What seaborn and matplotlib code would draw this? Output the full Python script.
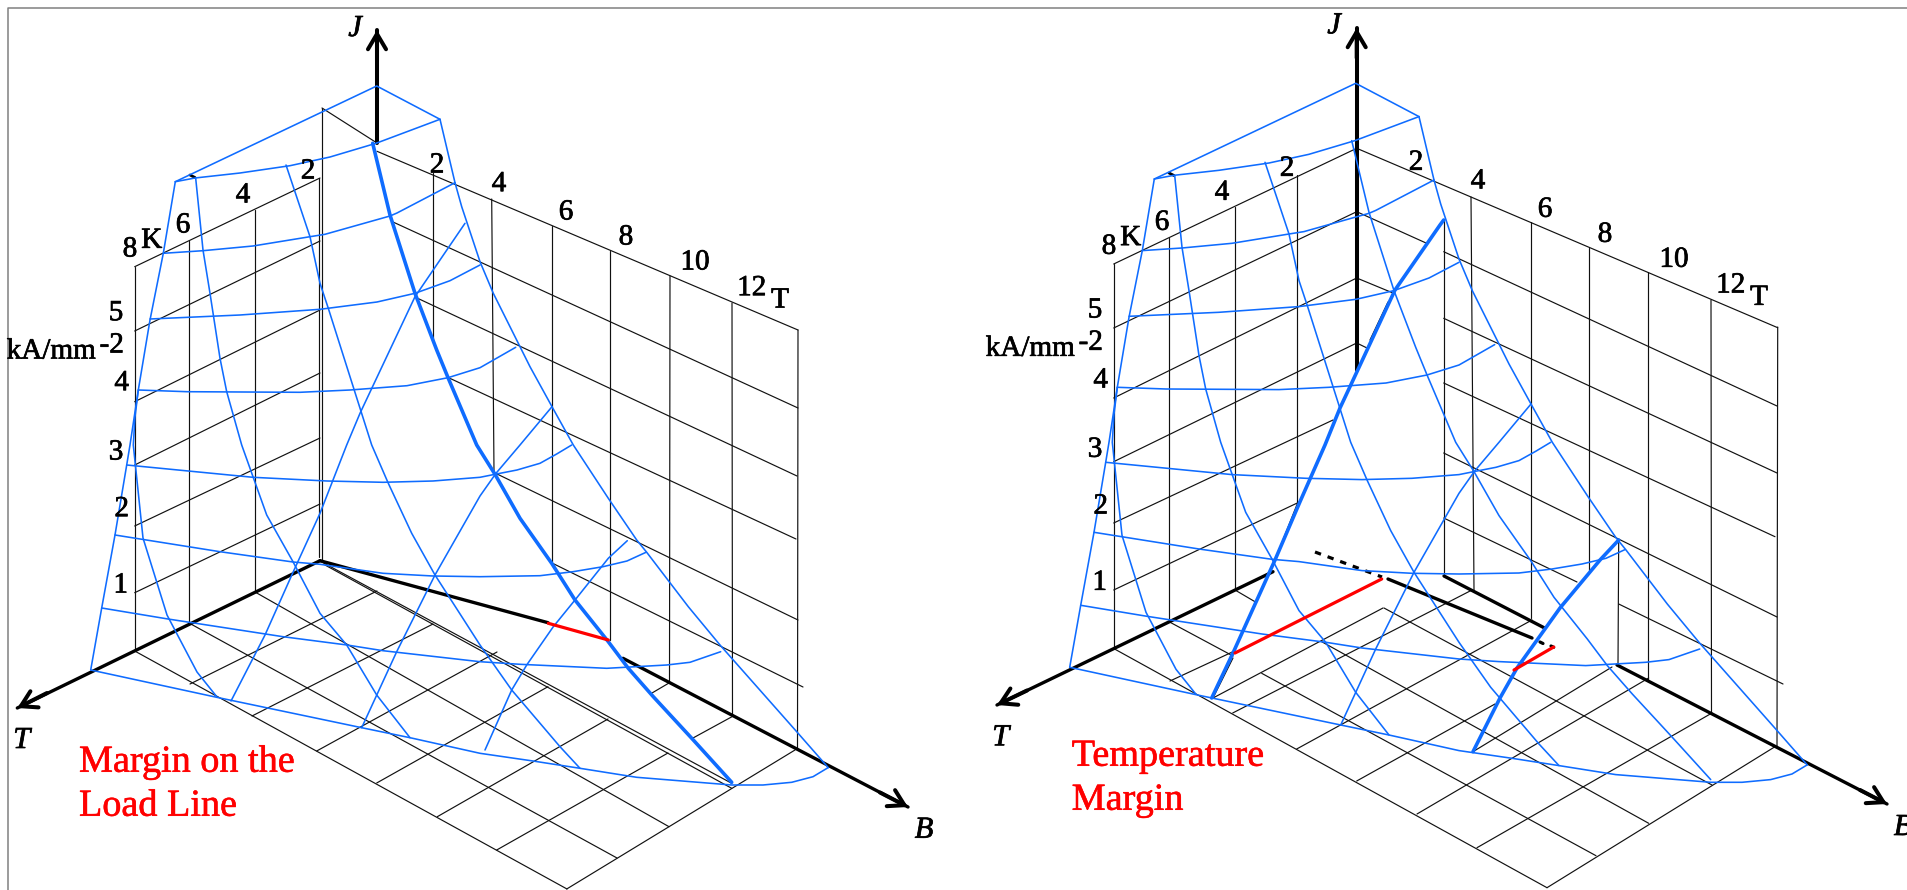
import pandas as pd
from matplotlib import pyplot as plt
from matplotlib import patheffects
import seaborn as sns

BLUE = '#0f6cff'
RED = '#ff0000'
SHIFT = (979, -2.7)   # the right panel repeats the surface of the left one

# ---- critical surface, shared by both panels
surface_top = [(175.3, 181.7), (376.7, 86), (440, 119.3)]
surface_edge = [(175.3, 181.7), (163.3, 253.3), (150, 320), (138.3, 390), (130, 445),
                (126.7, 465), (115, 535), (101.7, 608), (90.7, 670)]
curve_j1 = [(175.3, 181.7), (195, 178), (240, 173), (290, 165.7), (330, 157), (376, 143.3), (440, 119.3)]
curve_j2 = [(163.3, 253.3), (203, 250.7), (253, 246), (310, 236.7), (325, 234.3), (390, 216), (397, 213), (455, 182.7)]
curve_j3 = [(150, 319), (240, 315), (320, 309.3), (377, 302), (415, 293.3), (450, 280.7), (480, 265)]
curve_j4 = [(138.3, 390), (187, 391.7), (300, 392.3), (350, 390), (407, 385.7), (448, 377.7), (480, 367.7),
            (490, 362), (515.7, 347.3)]
curve_j5 = [(126.7, 465), (253, 477.3), (327, 481), (383, 482.3), (433, 481), (480, 477.3), (495, 474.3),
            (517, 470), (540, 463.3), (556.7, 454), (571.7, 445)]
curve_j6 = [(115, 535), (220, 551.7), (293, 562), (320, 564.3), (383, 573.3), (433, 576), (480, 576.7),
            (540, 575.7), (573, 571.7), (603, 566.7), (627, 561), (646, 552.3)]
curve_j7 = [(101.7, 608), (168, 619), (283, 636.7), (347, 645), (383, 650.7), (480, 661.7), (520, 664.3),
            (606.7, 668.3), (666.7, 665), (690, 662.3), (720.7, 651.7)]
curve_j8 = [(90.7, 670), (216.7, 697.3), (361.7, 727.7), (410, 737.7), (480, 753.3), (533, 761), (580, 768.3),
            (636.7, 777.3), (731.7, 785), (763, 785), (791.7, 782.3), (813, 776.7), (828, 767.7)]
fall_a = [(138.3, 390), (135, 417), (133.3, 445), (143, 538), (167, 615), (197, 672), (217, 697)]
fall_b = [(195.7, 178.3), (203, 250), (210, 293.3), (220, 358.3), (226.7, 391.7), (241.7, 445), (253, 476.7),
          (266.7, 515), (293, 561.7), (320, 613.3), (346.7, 645), (376.7, 695), (410, 737.7)]
fall_c = [(286, 165), (310, 236.7), (320, 283.3), (328.3, 308.3), (350, 376.7), (371.7, 445), (388.3, 483.3),
          (411.7, 533.3), (435, 575), (480, 645), (511.7, 690), (560, 746.7), (580, 768.3)]
fall_d = [(372.7, 143.3), (390, 215), (415, 293.3), (436.7, 350), (448.3, 378.3), (476.7, 445), (495, 474.3),
          (520, 518.3), (551.7, 563.3), (575, 600), (608.3, 641.7), (628.3, 668.3), (653.3, 696.7),
          (693.3, 740), (731.7, 782.3)]
fall_e = [(440, 119.3), (455, 182.7), (461.7, 206.7), (480, 261.7), (493.3, 293.3), (520, 346.7), (530, 366.7),
          (552, 406.7), (573.3, 445), (608.3, 498.3), (636.7, 540), (646.7, 552.3), (688.3, 606.7), (720, 645),
          (796.7, 731.7), (828.3, 767.7)]
rise_a = [(231, 701), (265, 635), (293.3, 571.7), (320, 513.3), (346.7, 445), (360, 413.3), (415, 296.7), (465, 223.3)]
rise_b = [(361.7, 727.7), (396.7, 651.7), (435, 575), (480, 496), (496, 473.3), (520, 445), (552, 406.7)]
rise_c = [(485, 750), (511.7, 690), (526.7, 665), (553.3, 626.7), (575, 600), (608.3, 558.3), (627.3, 540.7)]
surface = [surface_top, surface_edge, curve_j1, curve_j2, curve_j3, curve_j4, curve_j5, curve_j6, curve_j7,
           curve_j8, fall_a, fall_b, fall_c, fall_e, rise_b]

# ---- left panel, Margin on the Load Line
left_grid = [
    # T-J wall
    [(134.7, 266.7), (134.7, 651)], [(189, 241), (189, 623)], [(255, 210), (255, 592)],
    [(318.5, 178), (318.5, 557)], [(322, 108), (322, 560)], [(322, 108), (377, 143)],
    [(134.7, 266.7), (320, 178)], [(134.7, 331), (320, 241)], [(134.7, 401.7), (320, 310)],
    [(134.7, 465), (320, 373)], [(134.7, 526), (320, 438)], [(134.7, 592.7), (320, 504)],
    # B-J wall
    [(377, 151.3), (798, 330)], [(393, 222), (798, 408)], [(417, 298), (797, 476)], [(447, 377), (796, 539)],
    [(495, 473), (798, 620)], [(552, 563), (803, 687)],
    [(433, 173), (433, 340)], [(491.7, 199), (494, 472)], [(552, 226), (552, 562)], [(609.7, 251), (609.7, 640)],
    [(670, 276), (669.5, 683)], [(732, 303), (732.5, 715)], [(798, 330), (797.5, 748)],
    # floor
    [(134.7, 651), (567, 889)], [(189, 623), (617, 858)], [(255, 592), (669, 826.7)],
    [(320, 561), (731.7, 783.3)], [(325, 565), (731.7, 788.3)],
    [(190, 684), (377, 591)], [(252, 716), (433, 624)], [(316.7, 751), (497, 652)], [(376.7, 783), (548, 686.7)],
    [(437.3, 816.7), (608, 719)], [(652, 693), (669, 683)], [(496.7, 850), (668, 753)], [(693, 738), (732, 716.7)],
    [(566.7, 889), (795, 750)],
]
left_axes = [[(320, 560.7), (17.3, 708)], [(320, 560.7), (548, 622.7)], [(623, 658.3), (908, 807)]]
left_j_axis = [[(377, 143), (377, 30)]]
left_margin = [[(548.3, 623.3), (608.3, 640)]]
left_tick = [[(190, 175), (195, 177.5)]]

# ---- right panel, Temperature Margin
right_grid = [
    # T-J wall
    [(1113.7, 264), (1113.7, 648.3)], [(1169, 238), (1169, 621)], [(1234.7, 207), (1234.7, 590)], [(1297, 175), (1297, 502)],
    [(1113.7, 264), (1356.7, 148.3)], [(1113.7, 328), (1356.7, 211.7)], [(1113.7, 398), (1356.7, 278)],
    [(1113.7, 461.7), (1356.7, 343)], [(1113.7, 523), (1333, 420)], [(1113.7, 590), (1300, 501.7)],
    # B-J wall
    [(1356.7, 148.3), (1777.7, 327.7)], [(1356.7, 211.7), (1426.7, 243.3)], [(1443.7, 251.7), (1777, 406)],
    [(1356.7, 278), (1393, 293)], [(1443.7, 318.3), (1777, 473)], [(1356.7, 343), (1367, 348)],
    [(1443.7, 383), (1775, 536.7)], [(1443.7, 453), (1777, 617)], [(1443.7, 518), (1577, 582)],
    [(1618.7, 604), (1783, 684)],
    [(1443.7, 220), (1443.7, 576)], [(1471, 197), (1474, 590)], [(1531.3, 222), (1531.3, 618)], [(1589, 248), (1589, 570)],
    [(1618.7, 540), (1618, 665)], [(1648.3, 272), (1648.3, 680)], [(1711, 300), (1711.5, 713)], [(1777.7, 327), (1777, 746.7)],
    # floor
    [(1113.3, 648.3), (1547, 887.7)], [(1169, 621.7), (1233, 656)], [(1261.7, 673.3), (1596, 855.7)],
    [(1235, 590), (1256, 602.3)], [(1321.7, 641.7), (1648.7, 823.3)], [(1384, 608), (1712, 785)],
    [(1170, 681), (1233, 651.7)], [(1213, 698), (1383, 608)], [(1232.7, 713), (1472, 590)], [(1296.7, 749), (1532, 620)],
    [(1356.7, 781), (1495, 704)], [(1473, 751.7), (1612, 667)], [(1417, 814), (1648.7, 678)],
    [(1477, 847.7), (1712, 713)], [(1547, 887.7), (1775, 746.7)],
    # thin edge beside the cut
    [(1298, 502), (1275, 560)], [(1233, 658), (1213, 698)], [(1388, 302), (1370, 340)],
]
right_axes = [[(1273, 571.7), (997, 705)], [(1388, 579), (1532, 638)],
              [(1444, 576), (1544, 627.7)], [(1617, 665), (1887, 804)]]
right_j_axis = [[(1356.7, 370), (1356.7, 28)]]
right_dash = [[(1315, 552), (1382, 577)]]
right_dots = [[(1540, 642), (1543, 643.5)], [(1551, 646), (1553.7, 647.3)]]
right_margin = [[(1235, 653), (1381.7, 579)], [(1514, 670), (1553.7, 647)]]
right_tick = [[(1169, 173), (1174, 175.5)]]
cut_a = [(1211.7, 698), (1233, 653), (1275, 560), (1300, 501.7), (1325, 445), (1340, 408), (1351.7, 383),
         (1395, 290), (1440, 225), (1443.7, 220)]
cut_b = [(1473, 751.7), (1500, 698), (1517, 668), (1560, 608), (1600, 560), (1618.7, 540)]

# ---- texts
num_labels = ['8', 'K', '6', '4', '2', '2', '4', '6', '8', '10', '12', 'T', '5', 'kA/mm', '-2', '4', '3', '2', '1']
num_x = [130, 151.7, 183, 243, 308, 437, 499, 566, 626, 695, 751.7, 780, 116, 51, 111.7, 121.7, 116, 121.7, 120.7]
num_y = [247, 238.3, 223, 193, 169, 163, 181.7, 210, 235, 260, 285.7, 298, 310.7, 349, 343, 380.7, 450, 506.7, 583]
axis_labels = ['J', 'T', 'B']
axis_x = [355, 21.7, 924]
axis_y = [26, 738, 827.7]
TEXT_DROP = 2.5
heavier = [patheffects.withStroke(linewidth=0.5, foreground='black')]
heavier_red = [patheffects.withStroke(linewidth=0.4, foreground=RED)]


def draw(ax, lines, color, width, dx=0, dy=0, style='-'):
    rows = []
    for n, line in enumerate(lines):
        for x, y in line:
            rows.append({'line': n, 'x': x + dx, 'y': y + dy})
    sns.lineplot(data=pd.DataFrame(rows), x='x', y='y', units='line', estimator=None, sort=False,
                 color=color, linewidth=width, linestyle=style, ax=ax, legend=False)


def arrow_head(ax, start, tip):
    ax.annotate('', xy=tip, xytext=start,
                arrowprops=dict(arrowstyle='->,head_length=1.1,head_width=0.65', color='black', lw=2.9,
                                mutation_scale=10, shrinkA=0, shrinkB=0))


sns.set_theme(style='white')
plt.rcParams['font.family'] = ['Liberation Serif', 'DejaVu Serif']

fig = plt.figure(figsize=(19.07, 8.9), dpi=100)
ax = fig.add_axes([0, 0, 1, 1])

# page frame, top and left only
draw(ax, [[(8, 890), (8, 8), (1907, 8)]], '#808080', 1.1)

# black parts first, the surface goes on top
draw(ax, left_grid, '#111111', 0.85)
draw(ax, right_grid, '#111111', 0.85)
draw(ax, left_axes, 'black', 2.4)
draw(ax, right_axes, 'black', 2.4)
draw(ax, left_j_axis + right_j_axis, 'black', 2.9)
draw(ax, left_tick + right_tick, 'black', 2.0)
draw(ax, right_dash, 'black', 2.3, style=(0, (2, 2.2)))
draw(ax, right_dots, 'black', 2.3)

draw(ax, surface, BLUE, 1.15)
draw(ax, surface, BLUE, 1.15, SHIFT[0], SHIFT[1])
draw(ax, [rise_a, rise_c], BLUE, 1.15)
draw(ax, [fall_d], BLUE, 1.15, SHIFT[0], SHIFT[1])
draw(ax, [fall_d], BLUE, 2.6)
draw(ax, [cut_a, cut_b], BLUE, 2.6)

draw(ax, left_margin, RED, 2.3)
draw(ax, right_margin, RED, 2.3)

for start, tip in [((47, 693), (17.3, 708)), ((377, 60), (377, 30)), ((880, 792.5), (908, 807)),
                   ((1027, 690.5), (997, 705)), ((1356.7, 58), (1356.7, 28)), ((1860, 790), (1887, 804))]:
    arrow_head(ax, start, tip)

for dx, dy in [(0, 0), SHIFT]:
    for s, x, y in zip(num_labels, num_x, num_y):
        ax.text(x + dx, y + dy + TEXT_DROP, s, fontsize=21, color='black', ha='center', va='center',
                path_effects=heavier)
    for s, x, y in zip(axis_labels, axis_x, axis_y):
        ax.text(x + dx, y + dy + TEXT_DROP, s, fontsize=22, style='italic', color='black', ha='center', va='center',
                path_effects=heavier)

ax.text(79, 760 + TEXT_DROP, 'Margin on the', fontsize=27.5, color=RED, ha='left', va='center', path_effects=heavier_red)
ax.text(79, 804 + TEXT_DROP, 'Load Line', fontsize=27.5, color=RED, ha='left', va='center', path_effects=heavier_red)
ax.text(1071.7, 754 + TEXT_DROP, 'Temperature', fontsize=27.5, color=RED, ha='left', va='center', path_effects=heavier_red)
ax.text(1071.7, 798 + TEXT_DROP, 'Margin', fontsize=27.5, color=RED, ha='left', va='center', path_effects=heavier_red)

ax.set_xlim(0, 1907)
ax.set_ylim(890, 0)
ax.axis('off')
fig.savefig('out.png', dpi=100, facecolor='white')
